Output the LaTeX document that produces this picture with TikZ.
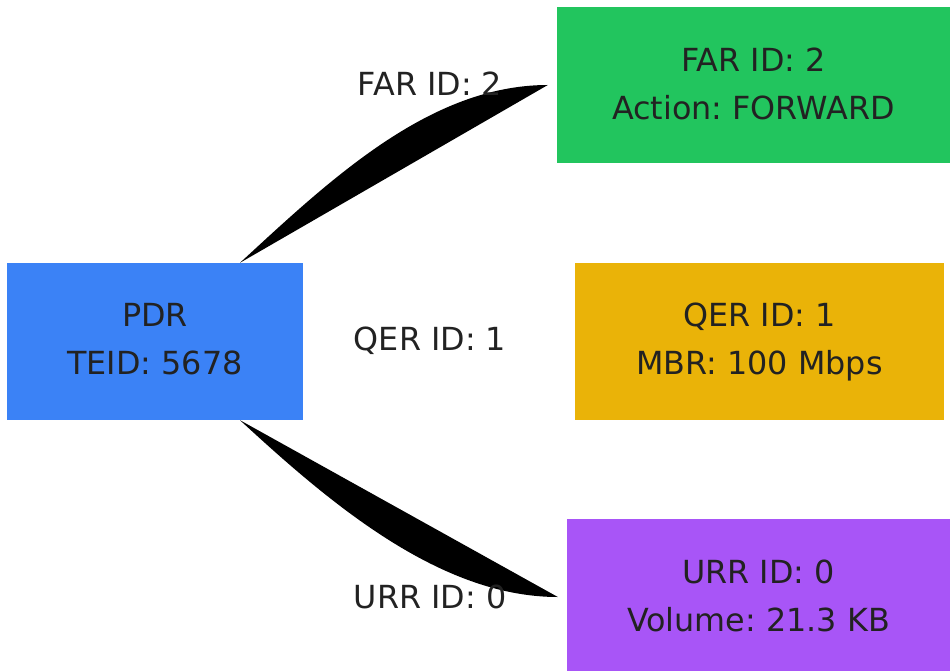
\documentclass[tikz,border=0pt]{standalone}
\usepackage{fontspec}
\setmainfont{DejaVu Sans}
\definecolor{pdrc}{HTML}{3B82F6}
\definecolor{farc}{HTML}{22C55E}
\definecolor{qerc}{HTML}{EAB308}
\definecolor{urrc}{HTML}{A855F7}
\definecolor{txt}{HTML}{222222}
\begin{document}
\frenchspacing
\begin{tikzpicture}[x=1pt,y=-1pt,
  box/.style={inner sep=0pt},
  boxtxt/.style={inner sep=0pt, align=center, text=txt, yshift=2pt, font=\fontsize{31.8}{48}\selectfont},
  lbl/.style={inner sep=0pt, text=txt, font=\fontsize{31.8}{48}\selectfont},
  conn/.style={fill=black}]
\useasboundingbox (0,0) rectangle (950,671);
\node[box, fill=pdrc, minimum width=296pt, minimum height=157pt, label={[boxtxt]center:PDR\\TEID: 5678}] (pdr) at (155,341.5) {};
\node[box, fill=farc, minimum width=393pt, minimum height=156pt, label={[boxtxt, yshift=-1pt]center:FAR ID: 2\\Action: FORWARD}] (far) at (753.5,85) {};
\node[box, fill=qerc, minimum width=369pt, minimum height=157pt, label={[boxtxt, yshift=-3pt]center:QER ID: 1\\MBR: 100 Mbps}] (qer) at (759.5,341.5) {};
\node[box, fill=urrc, minimum width=383pt, minimum height=152pt, label={[boxtxt, yshift=-3pt]center:URR ID: 0\\Volume: 21.3 KB}] (urr) at (758.5,595) {};
\coordinate (s1) at ([xshift=85pt]pdr.north);
\coordinate (e1) at ([xshift=-9pt]far.west);
\coordinate (s2) at ([xshift=85pt]pdr.south);
\coordinate (e2) at ([xshift=-9pt,yshift=-2pt]urr.west);
\fill[conn] (s1) .. controls +(90,-83) and +(-118,0) .. (e1) -- cycle;
\fill[conn] (s2) .. controls +(90,83) and +(-118,0) .. (e2) -- cycle;
\node[lbl] (l1) at (430,84) {FAR ID: 2};
\node[lbl] (l2) at (430,341) {QER ID: 1};
\node[lbl] (l3) at (430,597) {URR ID: 0};
\end{tikzpicture}
\end{document}
